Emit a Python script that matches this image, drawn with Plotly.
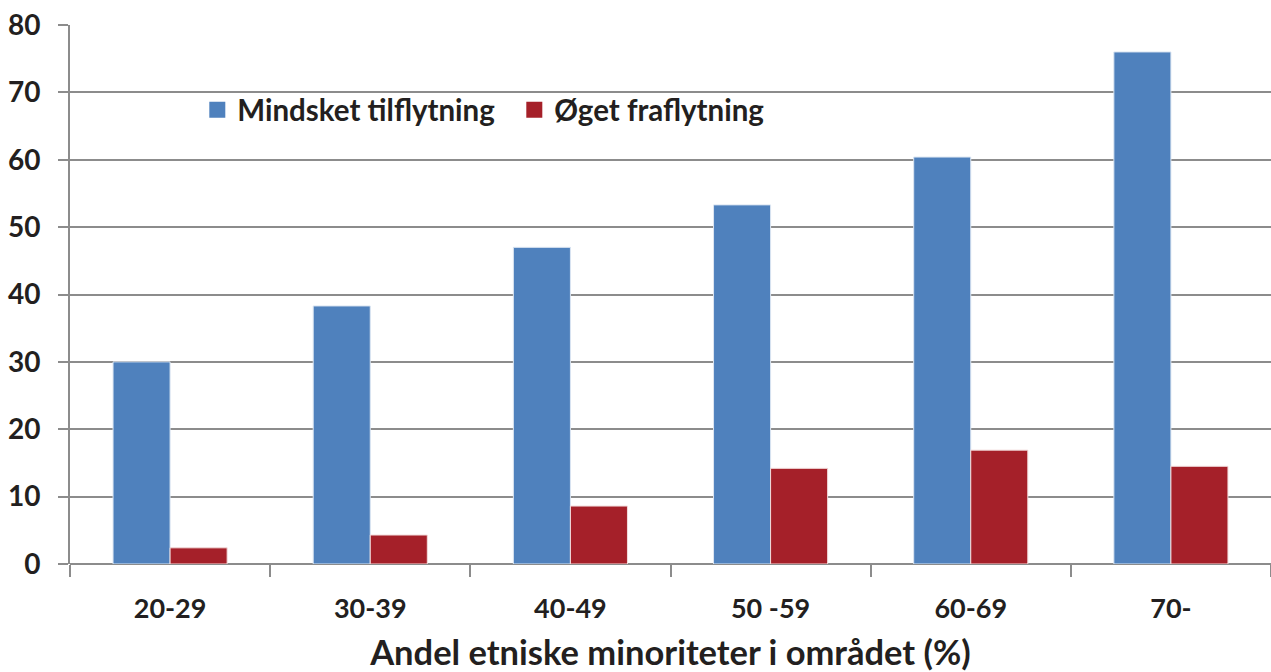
import plotly.graph_objects as go

categories = ["20-29", "30-39", "40-49", "50 -59", "60-69", "70-"]
mindsket = [30.0, 38.3, 47.0, 53.3, 60.4, 76.0]
oget = [2.4, 4.3, 8.6, 14.2, 16.9, 14.5]
series_names = ["Mindsket tilflytning", "Øget fraflytning"]
colors = ["#4f81bd", "#a52029"]
y_ticks = [0, 10, 20, 30, 40, 50, 60, 70, 80]

FONT = "Lato"
GRID = "#8c8c8c"
TXT = "#231f20"

fig = go.Figure()
fig.add_trace(go.Bar(x=categories, y=mindsket, name=series_names[0], showlegend=False,
                     marker=dict(color=colors[0], line=dict(color="#dce6f2", width=1))))
fig.add_trace(go.Bar(x=categories, y=oget, name=series_names[1], showlegend=False,
                     marker=dict(color=colors[1], line=dict(color="#f2dcdc", width=1))))
# legend entries with larger square symbols
for name, c in zip(series_names, colors):
    fig.add_trace(go.Scatter(x=[None], y=[None], mode="markers", name=name,
                             marker=dict(symbol="square", size=18, color=c)))

fig.update_layout(
    width=1271, height=672,
    margin=dict(l=70, r=0, t=25, b=108),
    paper_bgcolor="white", plot_bgcolor="white",
    barmode="group", bargap=0.43, bargroupgap=0,
    font=dict(family=FONT, color=TXT),
    showlegend=True,
    legend=dict(orientation="h", x=0.106, y=0.842, xanchor="left", yanchor="middle",
                font=dict(family=FONT, size=29.5, color=TXT, weight="bold"),
                bgcolor="rgba(0,0,0,0)", traceorder="normal", itemwidth=30,
                entrywidth=272),
)
fig.update_xaxes(
    type="category", tickson="boundaries", ticks="outside", ticklen=12,
    tickcolor=GRID, tickwidth=2, showline=False, showgrid=False, automargin=False,
    ticklabelstandoff=26,
    tickfont=dict(family=FONT, size=27, color=TXT, weight="bold"),
    title=dict(text="Andel etniske minoriteter i området (%)",
               font=dict(family=FONT, size=34.5, color=TXT, weight="bold"), standoff=36),
)
fig.update_yaxes(
    range=[0, 80], tickvals=y_ticks, showgrid=True, gridcolor=GRID, gridwidth=2,
    showline=True, linecolor=GRID, linewidth=2, ticks="outside", ticklen=10,
    tickcolor=GRID, tickwidth=2, zeroline=True, zerolinecolor=GRID, zerolinewidth=2,
    automargin=False, ticklabelstandoff=12,
    tickfont=dict(family=FONT, size=28, color=TXT, weight="bold"),
)

fig.write_html("out.html", config={"displayModeBar": False},
               post_script="document.body.style.margin='0';document.body.style.overflow='hidden';")
